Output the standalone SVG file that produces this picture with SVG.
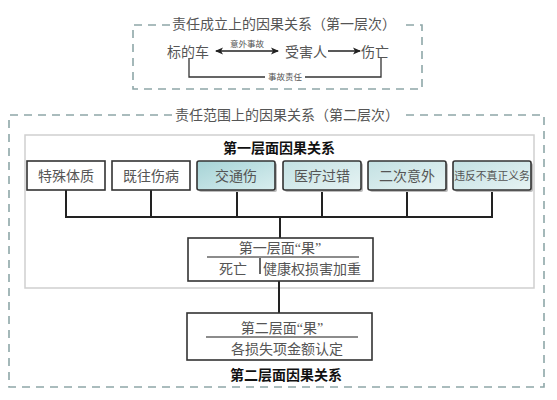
<svg xmlns="http://www.w3.org/2000/svg" width="557" height="400" viewBox="0 0 557 400">
<defs>
<style>
.dash{fill:none;stroke:#8ea7a8;stroke-width:1.6;stroke-dasharray:8 6}
.t{font-family:"Noto Sans CJK SC","Liberation Serif",serif;fill:#555;}
.q{font-family:"Liberation Serif",serif;}
.b{font-family:"Noto Sans CJK SC","Liberation Serif",serif;fill:#111;font-weight:bold;}
.box{fill:#fff;stroke:#333;stroke-width:1.6}
.tbox{stroke:#333;stroke-width:1.6}
.ln{fill:none;stroke:#222;stroke-width:2}
.thin{fill:none;stroke:#333;stroke-width:1.3}
</style>
<linearGradient id="g1" x1="0" y1="0" x2="1" y2="1">
<stop offset="0" stop-color="#a6d3d6"/><stop offset="1" stop-color="#d8eeef"/>
</linearGradient>
<linearGradient id="g2" x1="0" y1="0" x2="1" y2="1">
<stop offset="0" stop-color="#c3e1e3"/><stop offset="1" stop-color="#e6f3f3"/>
</linearGradient>
<marker id="ah" markerWidth="8" markerHeight="8" refX="7" refY="4" orient="auto-start-reverse" markerUnits="userSpaceOnUse">
<path d="M0,0.5 L8,4 L0,7.5 L2,4 Z" fill="#222"/>
</marker>
</defs>

<g id="layer1">
<path class="dash" d="M170,25 H133 V89 H422 V25 H400"/>
<text class="t" x="284" y="29" font-size="14" text-anchor="middle">责任成立上的因果关系（第一层次）</text>
</g>

<g id="n-car"><text class="t" x="188" y="57" font-size="14" text-anchor="middle">标的车</text></g>
<g id="n-victim"><text class="t" x="306" y="57" font-size="14" text-anchor="middle">受害人</text></g>
<g id="n-injury"><text class="t" x="375" y="57" font-size="14" text-anchor="middle">伤亡</text></g>

<g id="layer2">
<path class="dash" d="M172,115 H9 V387 H544 V115 H400"/>
<text class="t" x="287" y="120" font-size="14" text-anchor="middle">责任范围上的因果关系（第二层次）</text>
<rect x="25" y="135" width="509" height="153" fill="#fff" stroke="#cfcfcf" stroke-width="1.5"/>
<text class="b" x="279" y="153" font-size="14" text-anchor="middle">第一层面因果关系</text>
<text class="b" x="286" y="380" font-size="14" text-anchor="middle">第二层面因果关系</text>
</g>

<g id="connectors">
<line x1="216" y1="51" x2="278" y2="51" stroke="#222" stroke-width="1.5" marker-start="url(#ah)" marker-end="url(#ah)"/>
<text class="t" x="247" y="47" font-size="8.5" text-anchor="middle" fill="#333">意外事故</text>
<line x1="328" y1="51" x2="360" y2="51" stroke="#222" stroke-width="1.5" marker-end="url(#ah)"/>
<path class="thin" d="M189,58 V77 H265 M305,77 H381 V58"/>
<text class="t" x="285" y="80" font-size="8.5" text-anchor="middle" fill="#333">事故责任</text>
<path class="ln" d="M66,190 V217 M151,190 V217 M237,190 V217 M322,190 V217 M407,190 V217 M492,190 V217 M65,217 H493 M280,217 V238 M279,281 V313"/>
</g>

<g id="n-special"><rect class="box" x="27" y="161" width="78" height="29"/><text class="t" x="66" y="181" font-size="14" text-anchor="middle">特殊体质</text></g>
<g id="n-prior"><rect class="box" x="112" y="161" width="78" height="29"/><text class="t" x="151" y="181" font-size="14" text-anchor="middle">既往伤病</text></g>
<g id="n-traffic"><rect x="199" y="163" width="78" height="29" rx="2" fill="#bbb"/><rect class="tbox" x="197" y="161" width="78" height="29" rx="2" fill="url(#g1)"/><text class="t" x="236" y="181" font-size="14" text-anchor="middle">交通伤</text></g>
<g id="n-medical"><rect x="285" y="163" width="78" height="29" rx="2" fill="#bbb"/><rect class="tbox" x="283" y="161" width="78" height="29" rx="2" fill="url(#g2)"/><text class="t" x="322" y="181" font-size="14" text-anchor="middle">医疗过错</text></g>
<g id="n-second"><rect x="370" y="163" width="78" height="29" rx="2" fill="#bbb"/><rect class="tbox" x="368" y="161" width="78" height="29" rx="2" fill="url(#g2)"/><text class="t" x="407" y="181" font-size="14" text-anchor="middle">二次意外</text></g>
<g id="n-duty"><rect x="455" y="163" width="78" height="29" rx="2" fill="#bbb"/><rect class="tbox" x="453" y="161" width="78" height="29" rx="2" fill="url(#g2)"/><text class="t" x="492" y="180" font-size="10.8" text-anchor="middle">违反不真正义务</text></g>

<g id="n-result1">
<rect class="box" x="188" y="238" width="185" height="43"/>
<text class="t" x="280" y="253" font-size="14" text-anchor="middle">第一层面<tspan class="q">“</tspan>果<tspan class="q">”</tspan></text>
<line x1="207" y1="257" x2="359" y2="257" stroke="#666" stroke-width="1.5"/>
<line x1="260" y1="258" x2="260" y2="274" stroke="#333" stroke-width="1.5"/>
<text class="t" x="233" y="274" font-size="14" text-anchor="middle">死亡</text>
<text class="t" x="312" y="274" font-size="14" text-anchor="middle">健康权损害加重</text>
</g>

<g id="n-result2">
<rect class="box" x="187" y="313" width="185" height="47"/>
<text class="t" x="282" y="333" font-size="14" text-anchor="middle">第二层面<tspan class="q">“</tspan>果<tspan class="q">”</tspan></text>
<line x1="206" y1="337" x2="358" y2="337" stroke="#666" stroke-width="1.5"/>
<text class="t" x="287" y="354" font-size="14" text-anchor="middle">各损失项金额认定</text>
</g>
</svg>
